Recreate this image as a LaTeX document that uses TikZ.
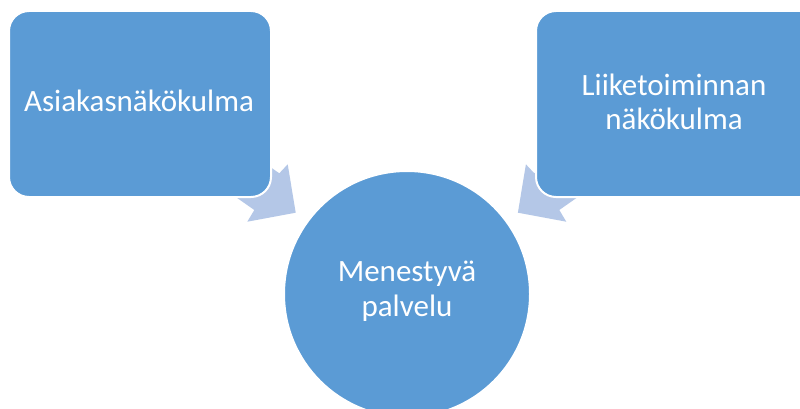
\documentclass[tikz,border=0pt]{standalone}
\usepackage{fontspec}
\setmainfont{Carlito}
\definecolor{boxblue}{HTML}{5B9BD5}
\definecolor{arrowblue}{HTML}{B4C7E7}
\begin{document}
\begin{tikzpicture}[x=1pt,y=-1pt,
  blk/.style={fill=boxblue,draw=white,line width=2pt,rounded corners=20pt},
  arr/.style={fill=arrowblue,draw=none},
  lbl/.style={text=white,font=\fontsize{31}{35}\selectfont,align=center,inner sep=0pt}]
\clip (0,0) rectangle (800,409);
\fill[white] (0,0) rectangle (800,409);
% arrows (behind boxes)
\fill[arr] (287.7,164.3) -- (295.7,212.7) -- (247.3,221.7) -- (254.3,210) -- (205,175.5) -- (230,139) -- (279.3,173.3) -- cycle;
\fill[arr] (525.9,164.3) -- (517.9,212.7) -- (566.3,221.7) -- (559.3,210) -- (608.6,175.5) -- (583.6,139) -- (534.3,173.3) -- cycle;
% boxes
\draw[blk] (9,11) rectangle (271,197);
\draw[blk] (536,11) rectangle (820,197);
\draw[fill=boxblue,draw=white,line width=2pt] (407,294) circle (123);
% labels
\node[lbl,anchor=base] (a) at (139,111.7) {Asiakasnäkökulma};
\node[lbl,anchor=base] (b) at (674,96) {Liiketoiminnan};
\node[lbl,anchor=base] (b2) at (674,130) {näkökulma};
\node[lbl,anchor=base] (c) at (407,281.7) {Menestyvä};
\node[lbl,anchor=base] (c2) at (407,316.7) {palvelu};
\end{tikzpicture}
\end{document}
